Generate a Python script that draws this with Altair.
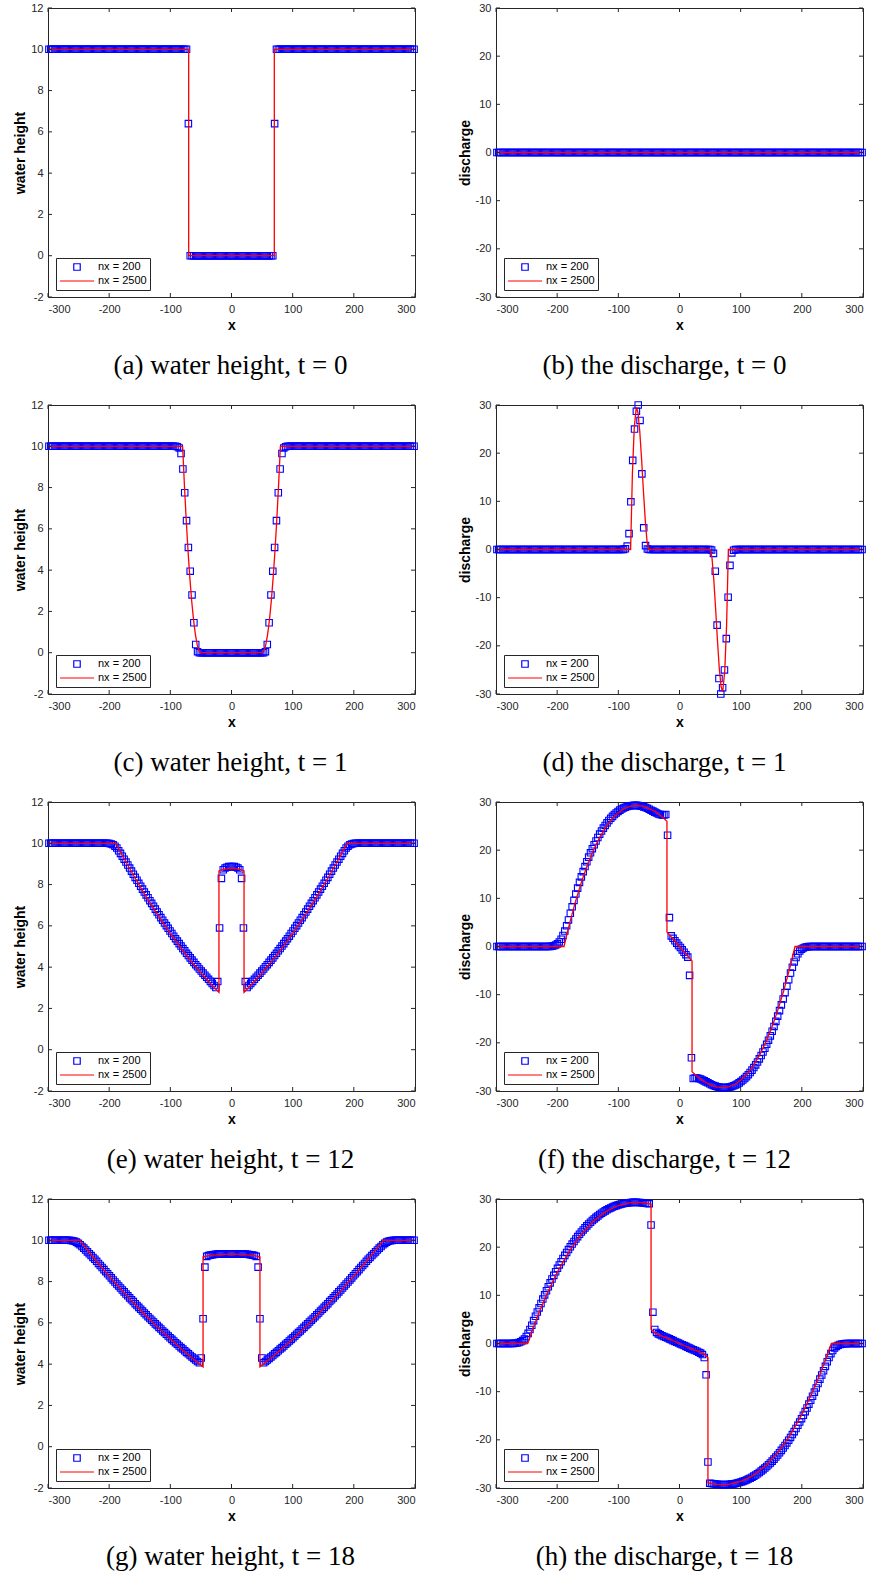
import altair as alt
import pandas as pd

# ---------------------------------------------------------------------------
# Dam-break (shallow water) profiles: coarse grid nx = 200 (cell values) and
# fine grid nx = 2500 (drawn as a polyline through its vertices).
# ---------------------------------------------------------------------------

# cell centres of the nx = 200 grid on [-300, 300]
CELL_X = [-298.5 + 3 * i for i in range(200)]

X_TICKS = [-300, -200, -100, 0, 100, 200, 300]
H_TICKS = [-2, 0, 2, 4, 6, 8, 10, 12]
Q_TICKS = [-30, -20, -10, 0, 10, 20, 30]
SERIES = ["nx = 200", "nx = 2500"]

# ---- t = 0 ----------------------------------------------------------------
H_T0 = [10.0] * 76 + [6.4] + [0.0] * 46 + [6.4] + [10.0] * 76
Q_T0 = [0.0] * 200
FINE_H_T0_X = [-300, -70, -70, 70, 70, 300]
FINE_H_T0_Y = [10, 10, 0, 0, 10, 10]
FINE_Q_T0_X = [-300, 300]
FINE_Q_T0_Y = [0, 0]

# ---- t = 1 ----------------------------------------------------------------
H_T1 = ([10.0] * 70
        + [9.98, 9.92, 9.65, 8.9, 7.75, 6.4, 5.1, 3.95, 2.8, 1.45, 0.4, 0.05]
        + [0.0] * 36
        + [0.05, 0.4, 1.45, 2.8, 3.95, 5.1, 6.4, 7.75, 8.9, 9.65, 9.92, 9.98]
        + [10.0] * 70)
Q_T1 = ([0.0] * 69
        + [0.02, 0.15, 0.7, 3.3, 9.9, 18.5, 25.0, 28.7, 30.0, 26.8, 15.7, 4.5, 0.8, 0.1]
        + [0.0] * 34
        + [-0.1, -0.8, -4.5, -15.7, -26.8, -30.0, -28.7, -25.0, -18.5, -9.9, -3.3, -0.7, -0.15, -0.02]
        + [0.0] * 69)
FINE_H_T1_X = [-300, -79.9, -77, -74, -71, -68, -65, -62, -59, -56, -53, -50.2,
               50.2, 53, 56, 59, 62, 65, 68, 71, 74, 77, 79.9, 300]
FINE_H_T1_Y = [10, 10, 8.13, 6.42, 4.90, 3.59, 2.48, 1.58, 0.88, 0.38, 0.09, 0,
               0, 0.09, 0.38, 0.88, 1.58, 2.48, 3.59, 4.90, 6.42, 8.13, 10, 10]
FINE_Q_T1_X = [-300, -79.9, -77, -74, -71, -70, -68, -65, -62, -59, -56, -53, -50.2,
               50.2, 53, 56, 59, 62, 65, 68, 70, 71, 74, 77, 79.9, 300]
FINE_Q_T1_Y = [0, 0, 15.7, 25.2, 29.1, 29.3, 28.5, 24.6, 18.8, 12.2, 6.1, 1.6, 0,
               0, -1.6, -6.1, -12.2, -18.8, -24.6, -28.5, -29.3, -29.1, -25.2, -15.7, 0, 0]

# ---- t = 12 ---------------------------------------------------------------
H_T12 = ([10.0] * 33
         + [9.99, 9.97, 9.93, 9.86, 9.77, 9.64, 9.51, 9.37, 9.23, 9.09, 8.95]
         + [8.80, 8.65, 8.50, 8.35, 8.21, 8.06, 7.92, 7.78, 7.64, 7.50,
            7.36, 7.22, 7.09, 6.95, 6.81, 6.67, 6.54, 6.40, 6.27, 6.14,
            6.01, 5.88, 5.75, 5.63, 5.50, 5.38, 5.26, 5.14, 5.02, 4.90,
            4.79, 4.67, 4.56, 4.45, 4.34, 4.23, 4.12, 4.02, 3.91, 3.81,
            3.71, 3.61, 3.51, 3.41, 3.31, 3.21, 3.11, 3.01]
         + [3.30, 5.90, 8.30, 8.72, 8.80, 8.84, 8.87, 8.88]
         + [8.88, 8.87, 8.84, 8.80, 8.72, 8.30, 5.90, 3.30]
         + [3.01, 3.11, 3.21, 3.31, 3.41, 3.51, 3.61, 3.71, 3.81, 3.91,
            4.02, 4.12, 4.23, 4.34, 4.45, 4.56, 4.67, 4.79, 4.90, 5.02,
            5.14, 5.26, 5.38, 5.50, 5.63, 5.75, 5.88, 6.01, 6.14, 6.27,
            6.40, 6.54, 6.67, 6.81, 6.95, 7.09, 7.22, 7.36, 7.50, 7.64,
            7.78, 7.92, 8.06, 8.21, 8.35, 8.50, 8.65, 8.80]
         + [8.95, 9.09, 9.23, 9.37, 9.51, 9.64, 9.77, 9.86, 9.93, 9.97, 9.99]
         + [10.0] * 33)
Q_T12 = ([0.0] * 28
         + [0.01, 0.03, 0.07, 0.15, 0.3, 0.55, 0.95, 1.5, 2.3, 3.2, 4.3]
         + [5.5, 6.9, 8.24, 9.58, 10.88, 12.12, 13.31, 14.45, 15.55, 16.59,
            17.59, 18.55, 19.45, 20.31, 21.13, 21.91, 22.64, 23.33, 23.97, 24.58,
            25.14, 25.67, 26.16, 26.61, 27.02, 27.40, 27.73, 28.04, 28.31, 28.54,
            28.75, 28.92, 29.05, 29.16, 29.24, 29.28, 29.30, 29.30, 29.26, 29.19,
            29.11, 28.99, 28.86, 28.69, 28.51, 28.30, 28.10, 27.90, 27.70, 27.52,
            27.40, 27.32, 27.30, 27.40]
         + [23.1, 6.0, 2.2, 1.7, 1.2, 0.7, 0.2]
         + [-0.2, -0.7, -1.2, -1.7, -2.2, -6.0, -23.1]
         + [-27.40, -27.30, -27.32, -27.40, -27.52, -27.70, -27.90, -28.10, -28.30, -28.51,
            -28.69, -28.86, -28.99, -29.11, -29.19, -29.26, -29.30, -29.30, -29.28, -29.24,
            -29.16, -29.05, -28.92, -28.75, -28.54, -28.31, -28.04, -27.73, -27.40, -27.02,
            -26.61, -26.16, -25.67, -25.14, -24.58, -23.97, -23.33, -22.64, -21.91, -21.13,
            -20.31, -19.45, -18.55, -17.59, -16.59, -15.55, -14.45, -13.31, -12.12, -10.88,
            -9.58, -8.24, -6.9, -5.5]
         + [-4.3, -3.2, -2.3, -1.5, -0.95, -0.55, -0.3, -0.15, -0.07, -0.03, -0.01]
         + [0.0] * 28)
FINE_H_T12_X = [-300, -188.8, -180, -170, -160, -150, -140, -130, -120, -110, -100,
                -90, -80, -70, -60, -50, -40, -30, -20.5, -20.5, -14, -7, 0, 7, 14,
                20.5, 20.5, 30, 40, 50, 60, 70, 80, 90, 100, 110, 120, 130, 140, 150,
                160, 170, 180, 188.8, 300]
FINE_H_T12_Y = [10, 10, 9.50, 8.96, 8.44, 7.94, 7.44, 6.97, 6.51, 6.06, 5.63,
                5.22, 4.82, 4.44, 4.07, 3.72, 3.39, 3.07, 2.78, 8.66, 8.73, 8.77, 8.79, 8.77, 8.73,
                8.66, 2.78, 3.07, 3.39, 3.72, 4.07, 4.44, 4.82, 5.22, 5.63, 6.06, 6.51, 6.97, 7.44, 7.94,
                8.44, 8.96, 9.50, 10, 10]
FINE_Q_T12_X = [-300, -188.8, -180, -170, -160, -150, -140, -130, -120, -110, -100,
                -90, -80, -70, -60, -50, -40, -30, -20.5, -20.5, 0, 20.5, 20.5,
                30, 40, 50, 60, 70, 80, 90, 100, 110, 120, 130, 140, 150, 160, 170,
                180, 188.8, 300]
FINE_Q_T12_Y = [0, 0, 4.64, 9.36, 13.50, 17.11, 20.17, 22.77, 24.88, 26.53, 27.77,
                28.65, 29.13, 29.30, 29.13, 28.69, 28.02, 27.08, 26.0, 3.0, 0, -3.0, -26.0,
                -27.08, -28.02, -28.69, -29.13, -29.30, -29.13, -28.65, -27.77, -26.53, -24.88,
                -22.77, -20.17, -17.11, -13.50, -9.36, -4.64, 0, 0]

# ---- t = 18 ---------------------------------------------------------------
H_T18 = ([10.0] * 12
         + [9.99, 9.98, 9.95, 9.91, 9.85, 9.78, 9.70, 9.62, 9.53, 9.44, 9.35, 9.26]
         + [9.17, 9.08, 8.98, 8.88, 8.78, 8.68, 8.58, 8.48, 8.38, 8.28,
            8.18, 8.08, 7.98, 7.88, 7.79, 7.69, 7.59, 7.50, 7.40, 7.31,
            7.21, 7.12, 7.03, 6.93, 6.84, 6.75, 6.66, 6.57, 6.48, 6.39,
            6.30, 6.21, 6.13, 6.04, 5.95, 5.87, 5.78, 5.70, 5.61, 5.53,
            5.45, 5.36, 5.28, 5.20, 5.12, 5.04, 4.96, 4.88, 4.80, 4.73,
            4.65, 4.57, 4.50, 4.42, 4.35, 4.28, 4.20, 4.13, 4.07]
         + [4.30, 6.20, 8.70, 9.22, 9.26, 9.28, 9.30, 9.31, 9.32, 9.33, 9.33,
            9.34, 9.34, 9.34, 9.34, 9.34, 9.34]
         + [9.34, 9.34, 9.34, 9.34, 9.34, 9.34, 9.33, 9.33, 9.32, 9.31, 9.30,
            9.28, 9.26, 9.22, 8.70, 6.20, 4.30]
         + [4.07, 4.13, 4.20, 4.28, 4.35, 4.42, 4.50, 4.57, 4.65,
            4.73, 4.80, 4.88, 4.96, 5.04, 5.12, 5.20, 5.28, 5.36, 5.45,
            5.53, 5.61, 5.70, 5.78, 5.87, 5.95, 6.04, 6.13, 6.21, 6.30,
            6.39, 6.48, 6.57, 6.66, 6.75, 6.84, 6.93, 7.03, 7.12, 7.21,
            7.31, 7.40, 7.50, 7.59, 7.69, 7.79, 7.88, 7.98, 8.08, 8.18,
            8.28, 8.38, 8.48, 8.58, 8.68, 8.78, 8.88, 8.98, 9.08, 9.17]
         + [9.26, 9.35, 9.44, 9.53, 9.62, 9.70, 9.78, 9.85, 9.91, 9.95, 9.98, 9.99]
         + [10.0] * 12)
Q_T18 = ([0.0] * 8
         + [0.01, 0.02, 0.05, 0.1, 0.2, 0.35, 0.6, 0.95, 1.45, 2.1, 2.9, 3.8,
            4.75, 5.65, 6.55, 7.4]
         + [8.31, 9.22, 10.09, 10.95, 11.78, 12.59, 13.38, 14.14, 14.89, 15.61,
            16.31, 16.99, 17.65, 18.29, 18.91, 19.50, 20.08, 20.64, 21.18, 21.70,
            22.19, 22.68, 23.14, 23.58, 24.00, 24.42, 24.81, 25.18, 25.53, 25.86,
            26.18, 26.49, 26.78, 27.04, 27.29, 27.53, 27.75, 27.96, 28.15, 28.32,
            28.48, 28.63, 28.75, 28.87, 28.97, 29.06, 29.14, 29.19, 29.24, 29.28,
            29.30, 29.31, 29.30, 29.28, 29.26, 29.21, 29.16, 29.10, 29.05]
         + [29.0, 24.6, 6.5, 2.9, 2.3, 2.0, 1.8, 1.62, 1.46, 1.3, 1.13, 0.96,
            0.78, 0.6, 0.43, 0.26, 0.09]
         + [-0.09, -0.26, -0.43, -0.6, -0.78, -0.96, -1.13, -1.3, -1.46, -1.62,
            -1.8, -2.0, -2.3, -2.9, -6.5, -24.6, -29.0]
         + [-29.05, -29.10, -29.16, -29.21, -29.26, -29.28, -29.30, -29.31, -29.30, -29.28,
            -29.24, -29.19, -29.14, -29.06, -28.97, -28.87, -28.75, -28.63, -28.48, -28.32,
            -28.15, -27.96, -27.75, -27.53, -27.29, -27.04, -26.78, -26.49, -26.18, -25.86,
            -25.53, -25.18, -24.81, -24.42, -24.00, -23.58, -23.14, -22.68, -22.19, -21.70,
            -21.18, -20.64, -20.08, -19.50, -18.91, -18.29, -17.65, -16.99, -16.31, -15.61,
            -14.89, -14.14, -13.38, -12.59, -11.78, -10.95, -10.09, -9.22, -8.31]
         + [-7.4, -6.55, -5.65, -4.75, -3.8, -2.9, -2.1, -1.45, -0.95, -0.6, -0.35,
            -0.2, -0.1, -0.05, -0.02, -0.01]
         + [0.0] * 8)
FINE_H_T18_X = [-300, -248.2, -240, -220, -200, -180, -160, -140, -120, -100, -80, -60,
                -46.5, -46.5, -35, -20, 0, 20, 35, 46.5, 46.5,
                60, 80, 100, 120, 140, 160, 180, 200, 220, 240, 248.2, 300]
FINE_H_T18_Y = [10, 10, 9.69, 8.96, 8.27, 7.60, 6.97, 6.36, 5.77, 5.22, 4.69, 4.19,
                3.87, 9.20, 9.27, 9.31, 9.33, 9.31, 9.27, 9.20, 3.87,
                4.19, 4.69, 5.22, 5.77, 6.36, 6.97, 7.60, 8.27, 8.96, 9.69, 10, 10]
FINE_Q_T18_X = [-300, -248.2, -240, -230, -220, -200, -180, -160, -140, -120, -100, -80,
                -70, -60, -46.5, -46.5, -42, -35, -20, 0, 20, 35, 42, 46.5, 46.5,
                60, 70, 80, 100, 120, 140, 160, 180, 200, 220, 230, 240, 248.2, 300]
FINE_Q_T18_Y = [0, 0, 2.94, 6.28, 9.36, 14.76, 19.21, 22.76, 25.47, 27.42, 28.65, 29.24,
                29.30, 29.23, 28.94, 2.95, 2.35, 1.85, 1.1, 0, -1.1, -1.85, -2.35, -2.95, -28.94,
                -29.23, -29.30, -29.24, -28.65, -27.42, -25.47, -22.76, -19.21, -14.76, -9.36,
                -6.28, -2.94, 0, 0]

# ---------------------------------------------------------------------------
W, H = 367, 289
FRAME = "#262626"
TICK_LEN = 4
SANS = "Liberation Sans"
SERIF = "Liberation Serif"

# legend / marker glyphs (unit paths, scaled by sqrt(size) / 2)
SQUARE = "M-0.19,-0.19H0.19V0.19H-0.19Z"
DASH = "M-1,0H1"
GLYPH_SIZE = 1156


def panel(cells, fine_x, fine_y, ydomain, yticks, ytitle, caption, cap_dx):
    xsc = alt.Scale(domain=[-300, 300], nice=False, zero=False)
    ysc = alt.Scale(domain=ydomain, nice=False, zero=False)
    xaxis = alt.Axis(values=X_TICKS, title="x", ticks=False, domain=False, grid=False,
                     labelPadding=6, titlePadding=4, labelExpr="toString(datum.value)")
    yaxis = alt.Axis(values=yticks, title=ytitle, ticks=False, domain=False, grid=False,
                     labelPadding=5, titlePadding=3, labelExpr="toString(datum.value)")
    X = lambda f: alt.X(f, scale=xsc, axis=xaxis)
    Y = lambda f: alt.Y(f, scale=ysc, axis=yaxis)

    legend = alt.Legend(orient="none", legendX=8, legendY=H - 39, title=None,
                        fillColor="white", strokeColor=FRAME,
                        padding=3, rowPadding=2, labelOffset=3, clipHeight=12,
                        labelFont=SANS, labelFontSize=11, labelColor="black",
                        symbolSize=GLYPH_SIZE, symbolStrokeWidth=1.2)

    cell_df = pd.DataFrame({"x": CELL_X, "v": cells, "series": SERIES[0]})
    fine_df = pd.DataFrame({"x": fine_x, "v": fine_y, "k": list(range(len(fine_x)))})

    coarse = alt.Chart(cell_df).mark_point(filled=False, size=GLYPH_SIZE, strokeWidth=1.1,
                                           opacity=1).encode(
        x=X("x:Q"), y=Y("v:Q"),
        color=alt.Color("series:N", scale=alt.Scale(domain=SERIES, range=["#0000ff", "#ff0000"]),
                        legend=legend),
        shape=alt.Shape("series:N", scale=alt.Scale(domain=SERIES, range=[SQUARE, DASH]),
                        legend=legend),
    )
    fine = alt.Chart(fine_df).mark_line(color="#ff0000", strokeWidth=1.3).encode(
        x=X("x:Q"), y=Y("v:Q"), order="k:Q")

    xt = pd.DataFrame({"t": X_TICKS})
    yt = pd.DataFrame({"t": yticks})
    tick = dict(color=FRAME, strokeWidth=1)
    bottom = alt.Chart(xt).mark_rule(**tick).encode(
        x=X("t:Q"), y=alt.value(H), y2=alt.value(H - TICK_LEN))
    top = alt.Chart(xt).mark_rule(**tick).encode(
        x=X("t:Q"), y=alt.value(0), y2=alt.value(TICK_LEN))
    left = alt.Chart(yt).mark_rule(**tick).encode(
        y=Y("t:Q"), x=alt.value(0), x2=alt.value(TICK_LEN))
    right = alt.Chart(yt).mark_rule(**tick).encode(
        y=Y("t:Q"), x=alt.value(W), x2=alt.value(W - TICK_LEN))

    return alt.layer(coarse, fine, bottom, top, left, right).properties(
        width=W, height=H,
        title=alt.TitleParams(caption, orient="bottom", anchor="middle", font=SERIF,
                              fontSize=27, fontWeight="normal", color="black",
                              offset=21, dx=cap_dx),
    )


H_DOM, Q_DOM = [-2, 12], [-30, 30]
panels_spec = [
    (H_T0, FINE_H_T0_X, FINE_H_T0_Y, "h", "(a) water height, t = 0"),
    (Q_T0, FINE_Q_T0_X, FINE_Q_T0_Y, "q", "(b) the discharge, t = 0"),
    (H_T1, FINE_H_T1_X, FINE_H_T1_Y, "h", "(c) water height, t = 1"),
    (Q_T1, FINE_Q_T1_X, FINE_Q_T1_Y, "q", "(d) the discharge, t = 1"),
    (H_T12, FINE_H_T12_X, FINE_H_T12_Y, "h", "(e) water height, t = 12"),
    (Q_T12, FINE_Q_T12_X, FINE_Q_T12_Y, "q", "(f) the discharge, t = 12"),
    (H_T18, FINE_H_T18_X, FINE_H_T18_Y, "h", "(g) water height, t = 18"),
    (Q_T18, FINE_Q_T18_X, FINE_Q_T18_Y, "q", "(h) the discharge, t = 18"),
]

panels = []
for cells, fx, fy, kind, cap in panels_spec:
    if len(cells) != 200:
        raise ValueError(f"bad cell count {len(cells)} for {cap}")
    if kind == "h":
        panels.append(panel(cells, fx, fy, H_DOM, H_TICKS, "water height", cap, -1))
    else:
        panels.append(panel(cells, fx, fy, Q_DOM, Q_TICKS, "discharge", cap, -15))

chart = (
    alt.concat(*panels, columns=2, spacing={"row": 108, "column": 81}, bounds="flush")
    .resolve_scale(color="independent", shape="independent")
    .resolve_legend(color="independent", shape="independent")
    .properties(padding={"left": 13, "top": 1, "right": 1, "bottom": 1}, background="white")
    .configure_view(stroke=FRAME, strokeWidth=1)
    .configure_axis(labelFont=SANS, labelFontSize=11, labelColor=FRAME,
                    titleFont=SANS, titleFontSize=14, titleFontWeight="bold", titleColor="black")
)

chart.save("out.html", embed_options={"renderer": "svg", "actions": False})
